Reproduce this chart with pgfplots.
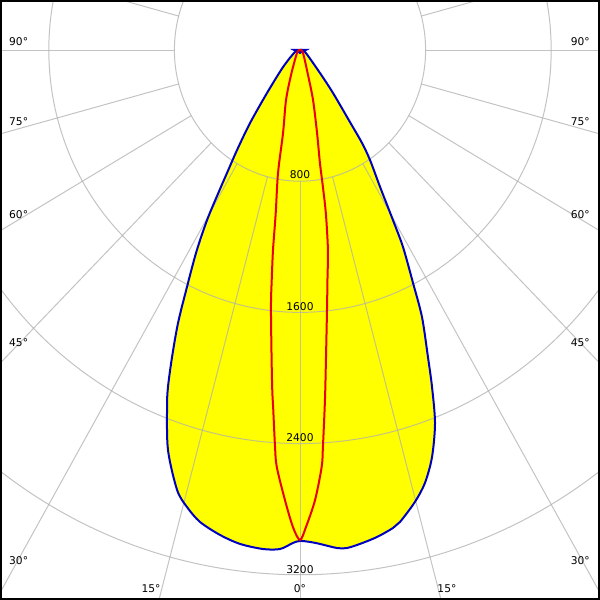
\documentclass[border=0pt]{standalone}
\usepackage{pgfplots}
\pgfplotsset{compat=1.18}
\usepackage{fontspec}
\setmainfont{DejaVu Sans}
\definecolor{lblue}{RGB}{0,0,192}
\definecolor{lyellow}{RGB}{255,255,0}
\definecolor{lred}{RGB}{235,0,0}
\definecolor{gridc}{RGB}{175,175,175}
\pgfplotstableread{
X Y
0 0
32 -12
127 -140
210 -262
318 -439
395 -567
446 -671
510 -835
592 -1037
656 -1201
720 -1421
777 -1628
815 -1872
841 -2055
860 -2275
841 -2482
796 -2640
732 -2756
637 -2878
592 -2915
490 -2970
382 -3012
299 -3037
236 -3037
127 -3012
64 -3000
0 -2994
-45 -3006
-127 -3043
-236 -3043
-382 -3012
-510 -2957
-637 -2878
-720 -2787
-783 -2683
-841 -2439
-847 -2177
-841 -2055
-815 -1872
-777 -1665
-720 -1445
-660 -1230
-592 -1037
-515 -860
-465 -750
-401 -610
-318 -445
-210 -262
-108 -104
-32 -12
0 0
}\cplane
\pgfplotstableread{
X Y
0 0
19 -18
51 -152
83 -305
108 -500
127 -689
146 -835
165 -1000
178 -1220
175 -1400
172 -1585
165 -1900
159 -2134
146 -2421
138 -2542
96 -2744
38 -2909
0 -2988
-45 -2909
-96 -2744
-148 -2542
-159 -2421
-170 -2200
-178 -2031
-185 -1585
-180 -1400
-172 -1220
-155 -1000
-140 -750
-108 -506
-89 -305
-57 -152
-19 -18
0 0
}\gplane
\begin{document}
\begin{tikzpicture}
\begin{axis}[width=450pt,height=450pt,scale only axis,
  xmin=-1911,xmax=1911,ymin=-3354,ymax=305,
  axis line style={draw=none}, ticks=none, clip=true]
% C0-C180 plane (filled)
\addplot[fill=lyellow, draw=none, smooth, tension=0.5] table[x=X,y=Y] {\cplane} -- cycle;
% grid
\pgfplotsinvokeforeach{800,1600,2400,3200}{
  \draw[gridc, opacity=0.75, line width=0.75pt] (axis cs:0,0) ellipse [x radius=#1, y radius=#1];
}
\pgfplotsinvokeforeach{0,15,30,45,60,75,90,105,120,135,150,165,180,195,210,225,240,255,270,285,300,315,330,345}{
  \draw[gridc, opacity=0.75, line width=0.75pt] (axis cs:{800*sin(#1)},{-800*cos(#1)}) -- (axis cs:{5000*sin(#1)},{-5000*cos(#1)});
}
% labels
\begin{scope}[every node/.style={font=\fontsize{8}{9}\selectfont, inner sep=0pt}]
\node at (axis cs:0,-762) {800};
\node at (axis cs:0,-1567) {1600};
\node at (axis cs:0,-2364) {2400};
\node at (axis cs:0,-3171) {3200};
\node[anchor=west] at (axis cs:-1854,49) {90°};
\node[anchor=west] at (axis cs:-1854,-439) {75°};
\node[anchor=west] at (axis cs:-1854,-1006) {60°};
\node[anchor=west] at (axis cs:-1854,-1787) {45°};
\node[anchor=west] at (axis cs:-1854,-3116) {30°};
\node[anchor=east] at (axis cs:1847,49) {90°};
\node[anchor=east] at (axis cs:1847,-439) {75°};
\node[anchor=east] at (axis cs:1847,-1006) {60°};
\node[anchor=east] at (axis cs:1847,-1787) {45°};
\node[anchor=east] at (axis cs:1847,-3116) {30°};
\node at (axis cs:-949,-3287) {15°};
\node at (axis cs:0,-3287) {0°};
\node at (axis cs:936,-3287) {15°};
\end{scope}
% outlines
\addplot[lblue, line width=1.5pt, smooth, tension=0.5] table[x=X,y=Y] {\cplane} -- cycle;
\addplot[lblue, fill=lblue, line width=0.5pt] coordinates {(-55,5) (55,5) (0,-22)} -- cycle;
% C90-C270 plane
\addplot[lred, line width=1.5pt, smooth, tension=0.5] table[x=X,y=Y] {\gplane};
% frame
\draw[black, line width=1.5pt] ([shift={(0.75pt,0.75pt)}]rel axis cs:0,0) rectangle ([shift={(-0.75pt,-0.75pt)}]rel axis cs:1,1);
\coordinate (bl) at (rel axis cs:0,0);
\coordinate (tr) at (rel axis cs:1,1);
\end{axis}
\pgfresetboundingbox
\useasboundingbox (bl) rectangle (tr);
\end{tikzpicture}
\end{document}
